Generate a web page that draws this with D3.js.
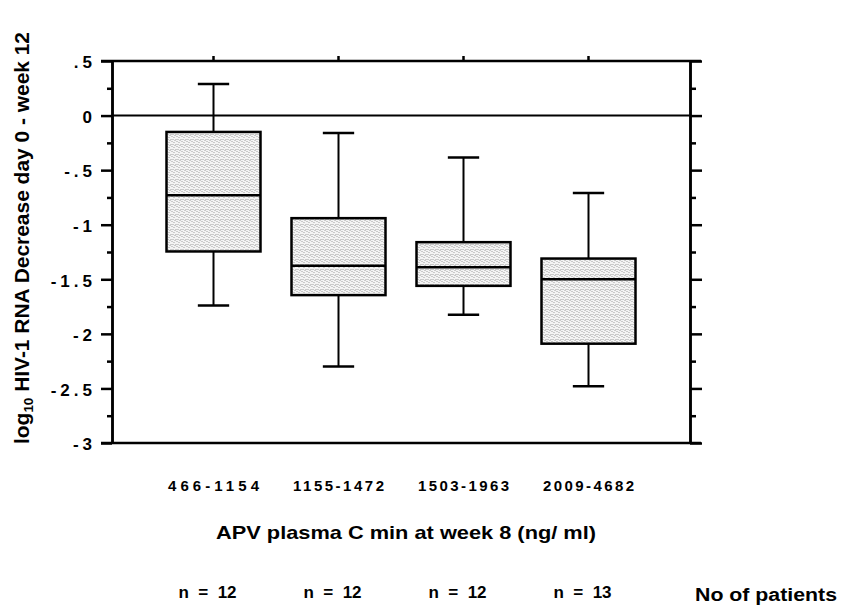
<!DOCTYPE html>
<html>
<head>
<meta charset="utf-8">
<script src="https://cdn.jsdelivr.net/npm/d3@7"></script>
<style>
  body { margin: 0; background: #fff; }
  svg { display: block; font-family: "Liberation Sans", Arial, sans-serif; font-weight: bold; }
  .pre { white-space: pre; }
</style>
</head>
<body>
<div id="chart"></div>
<script>
const categories = ["466-1154", "1155-1472", "1503-1963", "2009-4682"];
const whiskerHigh = [0.29, -0.16, -0.385, -0.71];
const q3 = [-0.15, -0.94, -1.16, -1.31];
const medians = [-0.73, -1.376, -1.39, -1.50];
const q1 = [-1.245, -1.645, -1.56, -2.09];
const whiskerLow = [-1.74, -2.30, -1.825, -2.48];
const nPatients = [12, 12, 12, 13];
const yTicks = [0.5, 0, -0.5, -1, -1.5, -2, -2.5, -3];
const yTickLabels = [".5", "0", "-.5", "-1", "-1.5", "-2", "-2.5", "-3"];
const yMinorTicks = [0.25, -0.25, -0.75, -1.25, -1.75, -2.25, -2.75];

const width = 854;
const height = 607;
const margin = { top: 61, right: 164, bottom: 164, left: 112 };
const innerWidth = width - margin.left - margin.right;
const innerHeight = height - margin.top - margin.bottom;

const boxes = categories.map((c, i) => ({
  cat: c, hi: whiskerHigh[i], q3: q3[i], med: medians[i], q1: q1[i], lo: whiskerLow[i], n: nPatients[i]
}));

const svg = d3.select("#chart")
  .append("svg")
  .attr("width", width)
  .attr("height", height);

// stippled fill
const pat = svg.append("defs").append("pattern")
  .attr("id", "stipple")
  .attr("patternUnits", "userSpaceOnUse")
  .attr("width", 5)
  .attr("height", 5);
pat.append("rect").attr("width", 5).attr("height", 5).attr("fill", "#f4f4f4");
[[0, 0], [2, 1], [4, 3], [1, 3], [3, 4]].forEach(([px, py]) => {
  pat.append("rect").attr("x", px).attr("y", py).attr("width", 1).attr("height", 1).attr("fill", "#a0a0a0");
});

const inner = svg.append("g")
  .attr("transform", `translate(${margin.left}, ${margin.top})`);

const xScale = d3.scaleBand()
  .domain(categories)
  .range([0, innerWidth])
  .paddingInner(0.248)
  .paddingOuter(0.436);

const yScale = d3.scaleLinear()
  .domain([-3, 0.5])
  .range([innerHeight, 0]);

// axes
const styleAxis = g => {
  g.select(".domain").attr("stroke", "#000").attr("stroke-width", 2.5);
  g.selectAll(".tick line").attr("stroke", "#000").attr("stroke-width", 2.5);
};

inner.append("g")
  .call(d3.axisLeft(yScale).tickValues(yTicks).tickSize(11).tickSizeOuter(0)
    .tickPadding(9).tickFormat((d, i) => yTickLabels[i]))
  .call(styleAxis)
  .call(g => g.selectAll(".tick text")
    .attr("font-size", 17)
    .attr("font-family", "Liberation Sans, Arial, sans-serif")
    .attr("font-weight", "bold")
    .attr("fill", "#000")
    .attr("letter-spacing", 4)
    .attr("dx", 4)
    .attr("dy", "0.4em"));

inner.append("g")
  .call(d3.axisLeft(yScale).tickValues(yMinorTicks).tickSize(5).tickSizeOuter(0).tickFormat(""))
  .call(styleAxis);

inner.append("g")
  .attr("transform", `translate(${innerWidth}, 0)`)
  .call(d3.axisRight(yScale).tickValues(yTicks).tickSize(12).tickSizeOuter(0).tickFormat(""))
  .call(styleAxis);

inner.append("g")
  .attr("transform", `translate(${innerWidth}, 0)`)
  .call(d3.axisRight(yScale).tickValues(yMinorTicks).tickSize(6).tickSizeOuter(0).tickFormat(""))
  .call(styleAxis);

inner.append("g")
  .call(d3.axisTop(xScale).tickSize(5).tickSizeOuter(0).tickFormat(""))
  .call(styleAxis)
  .call(g => g.select(".domain").remove());

// frame top and bottom, running past the side axes
[yScale(0.5), yScale(-3)].forEach(yy => {
  inner.append("line")
    .attr("x1", -11).attr("x2", innerWidth + 11)
    .attr("y1", yy).attr("y2", yy)
    .attr("stroke", "#000").attr("stroke-width", 2.5);
});

// zero reference line
inner.append("line")
  .attr("x1", 0).attr("x2", innerWidth)
  .attr("y1", yScale(0)).attr("y2", yScale(0))
  .attr("stroke", "#000").attr("stroke-width", 2);

// box plots
const bw = xScale.bandwidth();
const capW = bw / 3;
const boxG = inner.selectAll(".box")
  .data(boxes)
  .join("g")
  .attr("class", "box")
  .attr("transform", d => `translate(${xScale(d.cat)}, 0)`);

boxG.append("line")
  .attr("x1", bw / 2).attr("x2", bw / 2)
  .attr("y1", d => yScale(d.hi)).attr("y2", d => yScale(d.q3))
  .attr("stroke", "#000").attr("stroke-width", 2);
boxG.append("line")
  .attr("x1", bw / 2).attr("x2", bw / 2)
  .attr("y1", d => yScale(d.q1)).attr("y2", d => yScale(d.lo))
  .attr("stroke", "#000").attr("stroke-width", 2);
boxG.append("line")
  .attr("x1", bw / 2 - capW / 2).attr("x2", bw / 2 + capW / 2)
  .attr("y1", d => yScale(d.hi)).attr("y2", d => yScale(d.hi))
  .attr("stroke", "#000").attr("stroke-width", 2.5);
boxG.append("line")
  .attr("x1", bw / 2 - capW / 2).attr("x2", bw / 2 + capW / 2)
  .attr("y1", d => yScale(d.lo)).attr("y2", d => yScale(d.lo))
  .attr("stroke", "#000").attr("stroke-width", 2.5);
boxG.append("rect")
  .attr("x", 0)
  .attr("width", bw)
  .attr("y", d => yScale(d.q3))
  .attr("height", d => yScale(d.q1) - yScale(d.q3))
  .attr("fill", "url(#stipple)")
  .attr("stroke", "#000")
  .attr("stroke-width", 2.5);
boxG.append("line")
  .attr("x1", 0).attr("x2", bw)
  .attr("y1", d => yScale(d.med)).attr("y2", d => yScale(d.med))
  .attr("stroke", "#000").attr("stroke-width", 2.5);

// category labels
inner.selectAll(".cat")
  .data(categories)
  .join("text")
  .attr("class", "cat")
  .attr("x", d => xScale(d) + bw / 2)
  .attr("y", 486 - margin.top)
  .attr("dy", "0.35em")
  .attr("text-anchor", "middle")
  .attr("font-size", 15)
  .attr("textLength", 91)
  .attr("lengthAdjust", "spacing")
  .text(d => d);

// x axis title
svg.append("text")
  .attr("x", 406)
  .attr("y", 533)
  .attr("dy", "0.35em")
  .attr("text-anchor", "middle")
  .attr("font-size", 18.5)
  .attr("textLength", 380)
  .attr("lengthAdjust", "spacingAndGlyphs")
  .text("APV plasma C min at week 8 (ng/ ml)");

// patient counts
inner.selectAll(".ncount")
  .data(boxes)
  .join("text")
  .attr("class", "ncount pre")
  .attr("x", d => xScale(d.cat) + bw / 2 - 6)
  .attr("y", 592 - margin.top)
  .attr("dy", "0.35em")
  .attr("text-anchor", "middle")
  .attr("font-size", 17)
  .text(d => `n  =  ${d.n}`);

svg.append("text")
  .attr("x", 766)
  .attr("y", 595)
  .attr("dy", "0.35em")
  .attr("text-anchor", "middle")
  .attr("font-size", 18)
  .attr("textLength", 142)
  .attr("lengthAdjust", "spacingAndGlyphs")
  .text("No of patients");

// y axis title
const yTitle = svg.append("text")
  .attr("transform", "rotate(-90)")
  .attr("x", -238)
  .attr("y", 29)
  .attr("text-anchor", "middle")
  .attr("font-size", 19.5)
  .attr("textLength", 412)
  .attr("lengthAdjust", "spacingAndGlyphs");
yTitle.append("tspan").text("log");
yTitle.append("tspan").attr("font-size", 12.5).attr("dy", 4).text("10");
yTitle.append("tspan").attr("dy", -4).text(" HIV-1 RNA Decrease day 0 - week 12");
</script>
</body>
</html>
